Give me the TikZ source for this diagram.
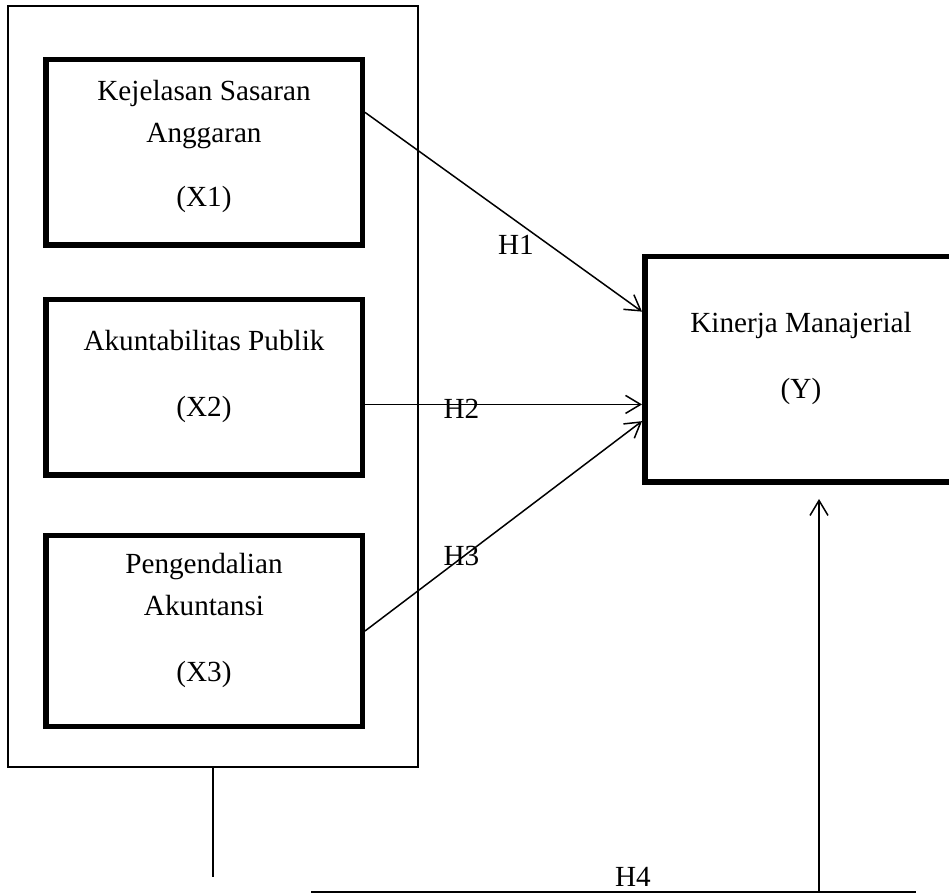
\documentclass[tikz,border=0pt]{standalone}
\usepackage{fontspec}
\setmainfont{Liberation Serif}
\usetikzlibrary{arrows.meta, positioning, fit}

\begin{document}
\begin{tikzpicture}[
  x=0.5pt, y=-0.5pt,
  every node/.style={font=\fontsize{14.6pt}{21pt}\selectfont},
  varbox/.style={rectangle, draw=black, line width=2.75pt,
                 minimum width=158.25pt, align=center, inner sep=0pt,
                 text depth=14pt},
  groupbox/.style={rectangle, draw=black, line width=0.75pt, inner sep=0pt},
  hyp/.style={inner sep=0pt},
  link/.style={line width=0.75pt},
  arrow/.style={link, -{Straight Barb[length=7.5pt, width=9pt]}}
]
\useasboundingbox (0,0) rectangle (949,893);

\node[groupbox, fit={(8,6) (418,767)}] (grp) {};

\node[varbox, minimum height=92.75pt, text depth=9pt] (x1) at (204,152.5) {%
  Kejelasan Sasaran\\ Anggaran\\[11pt] (X1)};
\node[varbox, minimum height=87.75pt] (x2) at (204,387.5) {%
  Akuntabilitas Publik\\[12pt] (X2)};
\node[varbox, minimum height=95.25pt] (x3) at (204,631) {%
  Pengendalian\\ Akuntansi\\[12pt] (X3)};
\node[varbox, minimum width=156.25pt, minimum height=112.75pt] (yb) at (801,369.5) {%
  Kinerja Manajerial\\[12pt] (Y)};

\draw[arrow] (x1.14.4) -- (yb.160.8);
\draw[arrow] (x2.-6.7) -- (x2.-6.7 -| yb.west);
\draw[arrow] (x3.east) -- (yb.198.6);

\node[hyp] (h1) at (516,245) {H1};
\node[hyp] (h2) at (461.5,409) {H2};
\node[hyp] (h3) at (461.5,556) {H3};

\coordinate (dropend) at (213,877);
\draw[link] (grp.south) -- (dropend);

\coordinate (baseL) at (311,892);
\coordinate (baseR) at (916,892);
\draw[link] (baseL) -- (baseR);
\node[hyp] (h4) at (633,877) {H4};

\coordinate (feed) at (819,892);
\coordinate (feedtip) at (819,499);
\draw[arrow] (feed) -- (feedtip);
\end{tikzpicture}
\end{document}
